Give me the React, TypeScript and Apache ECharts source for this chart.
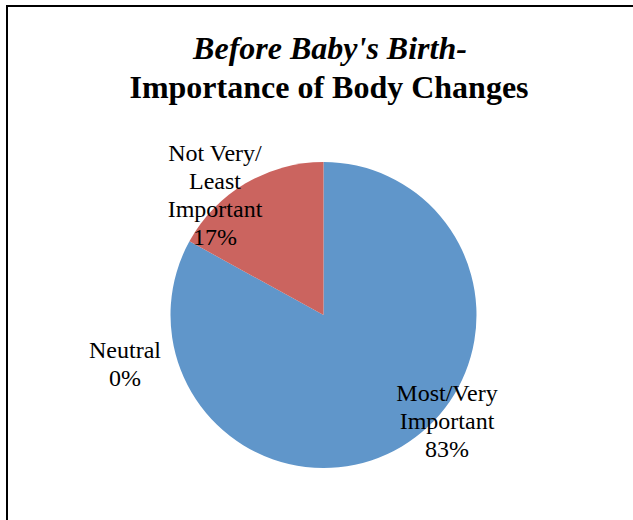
import React, { useEffect, useRef } from "react";
import * as echarts from "echarts";

const titleLines = ["Before Baby's Birth-", "Importance of Body Changes"];
const categories = ["Most/Very\nImportant", "Neutral", "Not Very/\nLeast\nImportant"];
const values = [83, 0, 17];
const colors = ["#6096CA", "#5F96CA", "#CB645F"];
const labelPos: number[][] = [
  [447, 421],
  [125, 364],
  [215, 195],
];

export default function App() {
  const ref = useRef<HTMLDivElement>(null);
  useEffect(() => {
    document.body.style.margin = "0";
    const chart = echarts.init(ref.current!, null, { renderer: "svg" });
    const font = "'Liberation Serif', 'Times New Roman', serif";
    chart.setOption({
      animation: false,
      backgroundColor: "#ffffff",
      graphic: [
        {
          type: "rect",
          shape: { x: 7, y: 6, width: 700, height: 600 },
          style: { fill: "none", stroke: "#000", lineWidth: 2 },
          z: 0,
        },
        {
          type: "text",
          x: 330,
          y: 48,
          style: {
            text: titleLines[0],
            fontFamily: font,
            fontSize: 32,
            fontWeight: "bold",
            fontStyle: "italic",
            fill: "#000",
            align: "center",
            verticalAlign: "middle",
          },
        },
        {
          type: "text",
          x: 329,
          y: 87,
          style: {
            text: titleLines[1],
            fontFamily: font,
            fontSize: 32,
            fontWeight: "bold",
            fill: "#000",
            align: "center",
            verticalAlign: "middle",
          },
        },
      ],
      series: [
        {
          type: "pie",
          center: [323.5, 315],
          radius: 153,
          startAngle: 90,
          clockwise: true,
          avoidLabelOverlap: false,
          data: categories.map((c, i) => ({
            name: c,
            value: values[i],
            itemStyle: { color: colors[i] },
          })),
          label: {
            show: true,
            position: "outside",
            formatter: (p: any) => `${p.name}\n${Math.round(p.percent)}%`,
            fontFamily: font,
            fontSize: 24,
            lineHeight: 28,
            color: "#000",
            align: "center",
          },
          labelLine: { show: false },
          labelLayout: (params: any) => ({
            x: labelPos[params.dataIndex][0],
            y: labelPos[params.dataIndex][1],
            align: "center",
            verticalAlign: "middle",
          }),
          emphasis: { disabled: true },
        },
      ],
    });
    return () => chart.dispose();
  }, []);
  return (
    <div
      ref={ref}
      style={{ position: "fixed", left: 0, top: 0, width: 633, height: 520 }}
    />
  );
}
